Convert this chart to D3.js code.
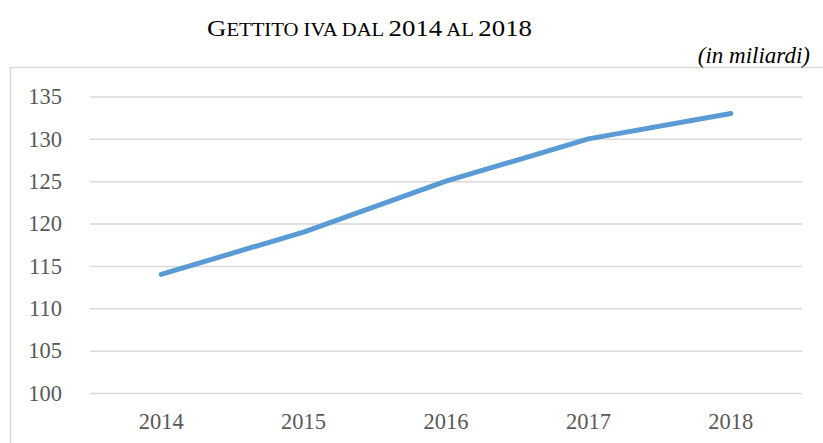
<!DOCTYPE html>
<meta charset="utf-8">
<style>
  body { margin: 0; background: #fff; }
  .axis path { display: none; }
  .axis--y line { stroke: #d9d9d9; stroke-width: 1.5px; }
  .axis--x line { display: none; }
  .axis text { fill: #595959; font-family: "Liberation Serif", "Times New Roman", serif; font-size: 22.5px; }
  .line { fill: none; stroke: #5b9bd5; stroke-width: 5px; stroke-linecap: round; stroke-linejoin: round; }
</style>
<svg width="823" height="443"></svg>
<script src="https://cdnjs.cloudflare.com/ajax/libs/d3/7.8.5/d3.min.js"></script>
<script>

  // data
  var years = ["2014", "2015", "2016", "2017", "2018"];
  var gettito = [114, 119, 125, 130, 133];
  var yTicks = [100, 105, 110, 115, 120, 125, 130, 135];

  var svg = d3.select("svg"),
    margin = { top: 96.5, right: 21, bottom: 50, left: 90 },
    width = 823 - margin.left - margin.right,
    height = 443 - margin.top - margin.bottom;

  var serif = "'Liberation Serif', 'Times New Roman', serif";

  // chart frame
  svg.append("rect")
    .attr("x", 10.5).attr("y", 67.5)
    .attr("width", 840).attr("height", 400)
    .attr("fill", "none").attr("stroke", "#d9d9d9").attr("stroke-width", 1.5);

  // title, small caps built by hand
  var title = svg.append("text")
    .attr("x", 207).attr("y", 36)
    .attr("textLength", 325)
    .attr("lengthAdjust", "spacingAndGlyphs")
    .style("font-family", serif)
    .attr("fill", "#000");
  [["G", 24], ["ETTITO IVA DAL ", 18.5], ["2014", 24], [" AL ", 18.5], ["2018", 24]].forEach(function (p) {
    title.append("tspan").style("font-size", p[1] + "px").text(p[0]);
  });

  svg.append("text")
    .attr("x", 810).attr("y", 63)
    .attr("text-anchor", "end")
    .style("font-family", serif)
    .style("font-size", "23px")
    .style("font-style", "italic")
    .attr("fill", "#000")
    .text("(in miliardi)");

  var g = svg.append("g").attr("transform", "translate(" + margin.left + "," + margin.top + ")");

  var x = d3.scaleBand().domain(years).range([0, width]);
  var y = d3.scaleLinear().domain([100, 135]).range([height, 0]);

  // y axis with gridlines
  g.append("g")
    .attr("class", "axis axis--y")
    .call(d3.axisLeft(y).tickValues(yTicks).tickSize(-width).tickPadding(28))
    .selectAll("text").attr("dy", "0.32em");

  // x axis
  g.append("g")
    .attr("class", "axis axis--x")
    .attr("transform", "translate(0," + height + ")")
    .call(d3.axisBottom(x).tickSize(0).tickPadding(20));

  var line = d3.line()
    .x(function (d, i) { return x(years[i]) + x.bandwidth() / 2; })
    .y(function (d) { return y(d); });

  g.append("path")
    .datum(gettito)
    .attr("class", "line")
    .attr("d", line);

</script>
